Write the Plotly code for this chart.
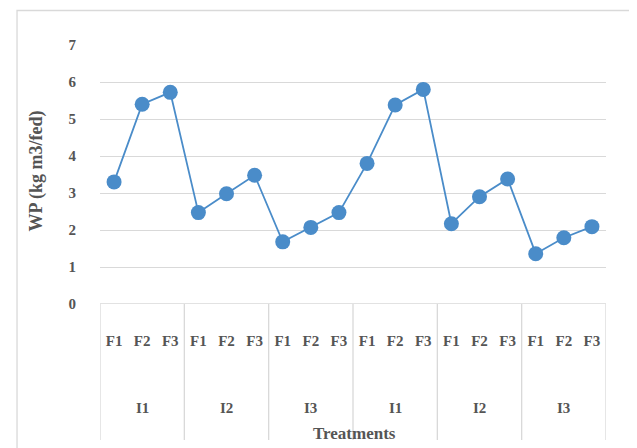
import plotly.graph_objects as go

# Data
irrigation = ["I1", "I2", "I3", "I1", "I2", "I3"]
fert = ["F1", "F2", "F3"]
wp_values = [3.3, 5.4, 5.72, 2.47, 2.98, 3.48, 1.68, 2.07, 2.47,
             3.8, 5.38, 5.8, 2.17, 2.9, 3.38, 1.36, 1.79, 2.09]
y_ticks = [0, 1, 2, 3, 4, 5, 6, 7]

tick_text = [f for _ in irrigation for f in fert]
x_idx = list(range(len(wp_values)))

OFF = 8  # page body margin
W, H = 637 - OFF, 448 - OFF
L = 99.5 - OFF
R = 637 - 605.7
T = 45 - OFF
B = 448 - 304
pw, ph = W - L - R, H - T - B

def px_x(px):
    return (px - OFF - L) / pw

def px_y(py):
    return (H - B - (py - OFF)) / ph

TXT = "#555555"
GRID = "#d9d9d9"
BLUE = "#4a8cc9"
FONT = "Liberation Serif"

fig = go.Figure()
fig.add_trace(go.Scatter(
    x=x_idx, y=wp_values, mode="lines+markers",
    line=dict(color=BLUE, width=1.8),
    marker=dict(color=BLUE, size=15),
    showlegend=False, cliponaxis=False,
))

shapes = []
for k in range(len(irrigation) + 1):
    xv = -0.5 + 3 * k
    shapes.append(dict(type="line", xref="x", yref="paper", x0=xv, x1=xv,
                       y0=0, y1=px_y(440), line=dict(color=GRID, width=1.3)))
shapes.append(dict(type="line", xref="paper", yref="y", x0=0, x1=1, y0=0, y1=0,
                   line=dict(color=GRID, width=1.3)))
shapes.append(dict(type="rect", xref="paper", yref="paper",
                   x0=px_x(16.5), x1=px_x(634), y0=px_y(470), y1=px_y(10.5),
                   line=dict(color=GRID, width=1.3), fillcolor="rgba(0,0,0,0)",
                   layer="below"))

annotations = []
for k, g in enumerate(irrigation):
    annotations.append(dict(x=3 * k + 1, y=px_y(408), xref="x", yref="paper",
                            xanchor="center", yanchor="middle",
                            text=f"<b>{g}</b>", showarrow=False,
                            font=dict(family=FONT, size=15, color=TXT)))
annotations.append(dict(x=px_x(354), y=px_y(433), xref="paper", yref="paper",
                        xanchor="center", yanchor="middle",
                        text="<b>Treatments</b>", showarrow=False,
                        font=dict(family=FONT, size=17, color=TXT)))
annotations.append(dict(x=px_x(35), y=px_y(171), xref="paper", yref="paper",
                        xanchor="center", yanchor="middle",
                        text="<b>WP (kg m3/fed)</b>", showarrow=False, textangle=-90,
                        font=dict(family=FONT, size=18, color=TXT)))

fig.update_layout(
    width=W, height=H,
    margin=dict(l=L, r=R, t=T, b=B, pad=0),
    paper_bgcolor="white", plot_bgcolor="white",
    shapes=shapes, annotations=annotations,
    xaxis=dict(range=[-0.5, 17.5], tickvals=x_idx, ticktext=[f"<b>{t}</b>" for t in tick_text],
               showgrid=False, zeroline=False, showline=False, ticks="",
               tickfont=dict(family=FONT, size=15, color=TXT), ticklabelstandoff=26,
               fixedrange=True),
    yaxis=dict(range=[0, 7], tickvals=y_ticks, ticktext=[f"<b>{v}</b>" for v in y_ticks],
               showgrid=True, gridcolor=GRID, gridwidth=1.3, zeroline=False,
               showline=False, ticks="", ticklabelstandoff=23,
               tickfont=dict(family=FONT, size=15, color=TXT), fixedrange=True),
)

fig.write_html("out.html")
